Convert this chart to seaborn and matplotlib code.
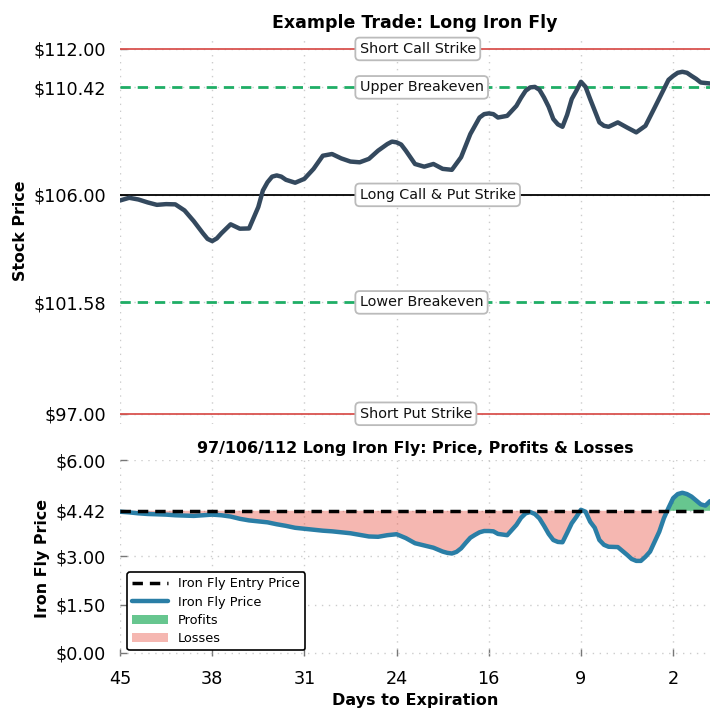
import matplotlib
matplotlib.use("Agg")
import matplotlib.pyplot as plt
import numpy as np
import pandas as pd
import seaborn as sns

sns.set_style("white")
plt.rcParams["font.family"] = ["DejaVu Sans"]
plt.rcParams["text.color"] = "black"
plt.rcParams["axes.labelcolor"] = "black"
plt.rcParams["xtick.labelcolor"] = "black"
plt.rcParams["ytick.labelcolor"] = "black"

# one reading per half step between ticks
stock_price = [105.77, 105.88, 105.81, 105.69, 105.59, 105.62, 105.61, 105.36, 104.92, 104.42,
               104.10, 104.42, 104.79, 104.61, 104.62, 105.50, 106.52, 106.80, 106.62, 106.50,
               106.66, 107.07, 107.61, 107.68, 107.50, 107.37, 107.34, 107.48, 107.82, 108.09,
               108.16, 107.82, 107.27, 107.16, 107.27, 107.07, 107.03, 107.55, 108.50, 109.18,
               109.35, 109.18, 109.25, 109.66, 110.28, 110.44, 110.00, 109.12, 108.80, 109.94,
               110.65, 109.94, 108.98, 108.80, 108.98, 108.77, 108.57, 108.84, 109.59, 110.35,
               110.89, 111.06, 110.89, 110.62, 110.58]
fly_price = [4.39, 4.37, 4.34, 4.32, 4.31, 4.30, 4.28, 4.27, 4.26, 4.28,
             4.30, 4.28, 4.24, 4.17, 4.12, 4.09, 4.06, 4.00, 3.95, 3.89,
             3.86, 3.83, 3.80, 3.78, 3.75, 3.72, 3.67, 3.62, 3.61, 3.66,
             3.69, 3.57, 3.41, 3.34, 3.27, 3.15, 3.09, 3.25, 3.58, 3.75,
             3.79, 3.70, 3.66, 3.98, 4.34, 4.32, 3.95, 3.51, 3.44, 4.03,
             4.45, 4.08, 3.51, 3.30, 3.29, 3.05, 2.86, 2.99, 3.46, 4.19,
             4.81, 4.98, 4.86, 4.62, 4.72]
# extra readings where the curves bend hard
stock_extra_t = [4.75, 5.25, 7.75, 8.25, 8.75, 14.75, 15.25, 19.25, 19.75, 20.25, 21.75, 22.25,
                 22.75, 23.25, 23.75, 24.25, 24.75, 25.25, 25.75, 26.25, 29.75, 30.25, 30.75, 31.25]
stock_extra = [104.19, 104.21, 106.18, 106.75, 106.75, 108.19, 108.07, 108.84, 109.32, 109.32,
               109.99, 110.42, 110.32, 109.62, 108.90, 109.29, 110.28, 110.44, 109.46, 108.84,
               110.73, 111.02, 111.02, 110.77]
fly_extra_t = [17.75, 18.25, 18.75, 19.25, 19.75, 20.25, 21.75, 22.25, 22.75, 23.25, 23.75, 24.25,
               24.75, 25.25, 25.75, 26.25, 27.75, 28.25, 28.75, 29.25, 29.75, 30.25, 30.75, 31.25, 31.75]
fly_extra = [3.11, 3.14, 3.42, 3.67, 3.79, 3.78, 4.20, 4.38, 4.18, 3.70, 3.45, 3.73,
             4.23, 4.39, 3.89, 3.36, 2.92, 2.86, 3.15, 3.77, 4.51, 4.94, 4.94, 4.74, 4.58]
dte_labels = ["45", "38", "31", "24", "16", "9", "2"]
stock_ticks = [97.0, 101.58, 106.0, 110.42, 112.0]
fly_ticks = [0.0, 1.5, 3.0, 4.42, 6.0]
entry_price = 4.42

half_steps = np.arange(len(stock_price)) * 0.5
df_stock = pd.concat([pd.DataFrame({"t": half_steps, "stock": stock_price}),
                      pd.DataFrame({"t": stock_extra_t, "stock": stock_extra})]).sort_values("t")
df_fly = pd.concat([pd.DataFrame({"t": half_steps, "fly": fly_price}),
                    pd.DataFrame({"t": fly_extra_t, "fly": fly_extra})]).sort_values("t")
tick_pos = list(range(0, 31, 5))

W = 725.0
fig = plt.figure(figsize=(7.25, 7.25), dpi=100)
ax1 = fig.add_axes([120 / W, 1 - 424 / W, 590 / W, 386 / W])
ax2 = fig.add_axes([120 / W, 1 - 656 / W, 590 / W, 196 / W])

grid = dict(color="#cccccc", linestyle=(0, (1, 4)), linewidth=1)
box = dict(boxstyle="round,pad=0.3", fc="white", ec="#bbbbbb", lw=1.3)
be_dash = (0, (3.7, 2.5))

# upper panel
for val, col, ls, lw, txt in [(112.0, "#d9534f", "-", 1.3, "Short Call Strike"),
                              (110.42, "#1fae66", be_dash, 2, "Upper Breakeven"),
                              (106.0, "black", "-", 1.3, "Long Call & Put Strike"),
                              (101.58, "#1fae66", be_dash, 2, "Lower Breakeven"),
                              (97.0, "#d9534f", "-", 1.3, "Short Put Strike")]:
    ax1.axhline(val, color=col, ls=ls, lw=lw, zorder=2)
    ax1.text(13, val, txt, ha="left", va="center", fontsize=10.4, color="#111111", bbox=box, zorder=5)
sns.lineplot(data=df_stock, x="t", y="stock", ax=ax1, color="#34495e", lw=3.2, zorder=4)
ax1.set_ylim(96.58, 112.45)
ax1.set_yticks(stock_ticks)
ax1.set_yticklabels([f"${v:.2f}" for v in stock_ticks])
ax1.set_xticks(tick_pos)
ax1.set_xticklabels([])
ax1.set_xlabel("")
ax1.set_ylabel("Stock Price", fontsize=11.4, fontweight="bold")
ax1.set_title("Example Trade: Long Iron Fly", fontsize=12.5, fontweight="bold", pad=7)

# lower panel
fly_t = df_fly["t"].to_numpy()
fly = df_fly["fly"].to_numpy()
ax2.axhline(entry_price, color="black", ls=(0, (3, 2)), lw=2.5, zorder=4, label="Iron Fly Entry Price")
sns.lineplot(x=fly_t, y=fly, ax=ax2, color="#2a7ea6", lw=3.2, zorder=3, label="Iron Fly Price")
ax2.fill_between(fly_t, entry_price, fly, where=fly >= entry_price, interpolate=True,
                 color="#27ae60", alpha=0.7, lw=0, label="Profits")
ax2.fill_between(fly_t, entry_price, fly, where=fly <= entry_price, interpolate=True,
                 color="#e74c3c", alpha=0.4, lw=0, label="Losses")
ax2.set_ylim(-0.1, 6.0)
ax2.set_yticks(fly_ticks)
ax2.set_yticklabels([f"${v:.2f}" for v in fly_ticks])
ax2.set_xticks(tick_pos)
ax2.set_xticklabels(dte_labels)
ax2.set_xlabel("Days to Expiration", fontsize=11.5, fontweight="bold")
ax2.set_ylabel("Iron Fly Price", fontsize=11.4, fontweight="bold")
ax2.set_title("97/106/112 Long Iron Fly: Price, Profits & Losses", fontsize=11.4, fontweight="bold", pad=5)
handles, labels = ax2.get_legend_handles_labels()
order = [labels.index(n) for n in ["Iron Fly Entry Price", "Iron Fly Price", "Profits", "Losses"]]
leg = ax2.legend([handles[i] for i in order], [labels[i] for i in order], loc="lower left",
                 bbox_to_anchor=(0.012, 0.03), fontsize=9.3, frameon=True, fancybox=True,
                 framealpha=1, edgecolor="black", borderaxespad=0, labelspacing=0.4, handlelength=2.75)
leg.get_frame().set_linewidth(1.2)

for ax in (ax1, ax2):
    ax.set_xlim(0, 32)
    ax.grid(True, **grid)
    ax.set_axisbelow(True)
    sns.despine(ax=ax, left=True, bottom=True)
    ax.tick_params(axis="both", direction="in", length=5, width=1, color="#777777",
                   labelsize=12.7, left=True, bottom=True, pad=10)
ax1.tick_params(axis="x", length=0)
ax1.yaxis.set_label_coords(28 / 590 - 120 / 590, 0.5)
ax2.yaxis.set_label_coords(50 / 590 - 120 / 590, 0.5)

fig.savefig("out.png", dpi=100)
